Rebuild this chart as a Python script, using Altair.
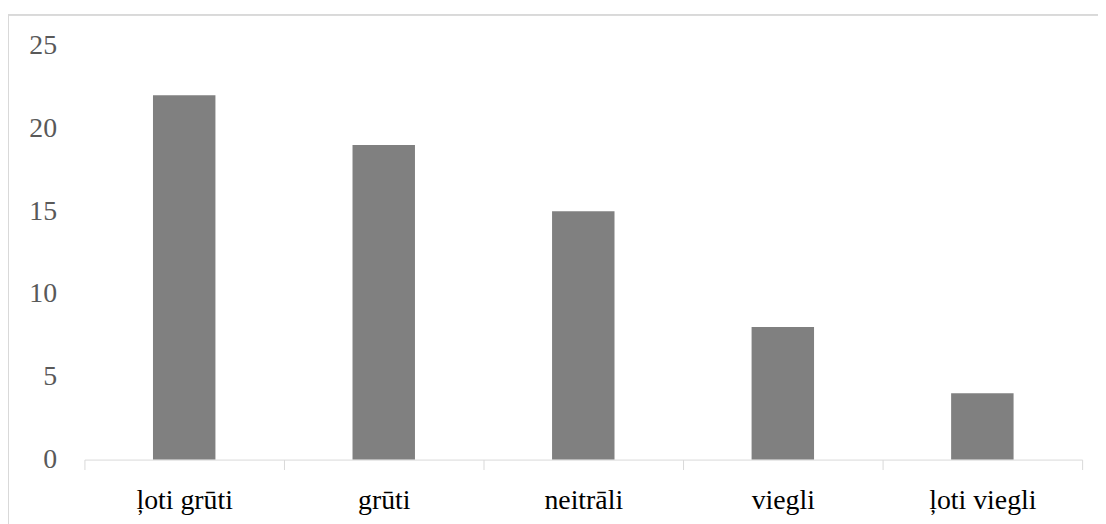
import altair as alt
import pandas as pd

categories = ["ļoti grūti", "grūti", "neitrāli", "viegli", "ļoti viegli"]
values = [22, 19, 15, 8, 4]

df = pd.DataFrame({"cat": categories, "val": values})

W, H = 1005, 417
FONT = "Liberation Serif"

bars = alt.Chart(df).mark_bar(color="#808080", width={"band": 0.313}).encode(
    x=alt.X(
        "cat:N",
        sort=categories,
        title=None,
        scale=alt.Scale(paddingInner=0, paddingOuter=0),
        axis=alt.Axis(
            labelAngle=0,
            labelFont=FONT,
            labelFontSize=28,
            labelColor="#000000",
            domainColor="#d9d9d9",
            domainWidth=1,
            tickColor="#d9d9d9",
            tickWidth=1,
            tickSize=10,
            tickBand="extent",
            labelPadding=17,
            grid=False,
        ),
    ),
    y=alt.Y(
        "val:Q",
        title=None,
        scale=alt.Scale(domain=[0, 25], nice=False, zero=True),
        axis=alt.Axis(
            values=[0, 5, 10, 15, 20, 25],
            labelFont=FONT,
            labelFontSize=28,
            labelColor="#595959",
            domain=False,
            ticks=False,
            grid=False,
            labelPadding=28,
        ),
    ),
)

border = alt.Chart(df).mark_rect(
    fill=None, stroke="#d9d9d9", strokeWidth=1.3
).encode(
    x=alt.value(-77),
    x2=alt.value(W + 40),
    y=alt.value(-31),
    y2=alt.value(H + 90),
)

chart = alt.layer(border, bars).properties(
    width=W,
    height=H,
    autosize=alt.AutoSizeParams(type="none"),
    padding={"left": 77, "top": 36, "right": 16, "bottom": 63},
).configure_view(strokeWidth=0)

chart.save("out.html", embed_options={"renderer": "svg", "actions": False})
